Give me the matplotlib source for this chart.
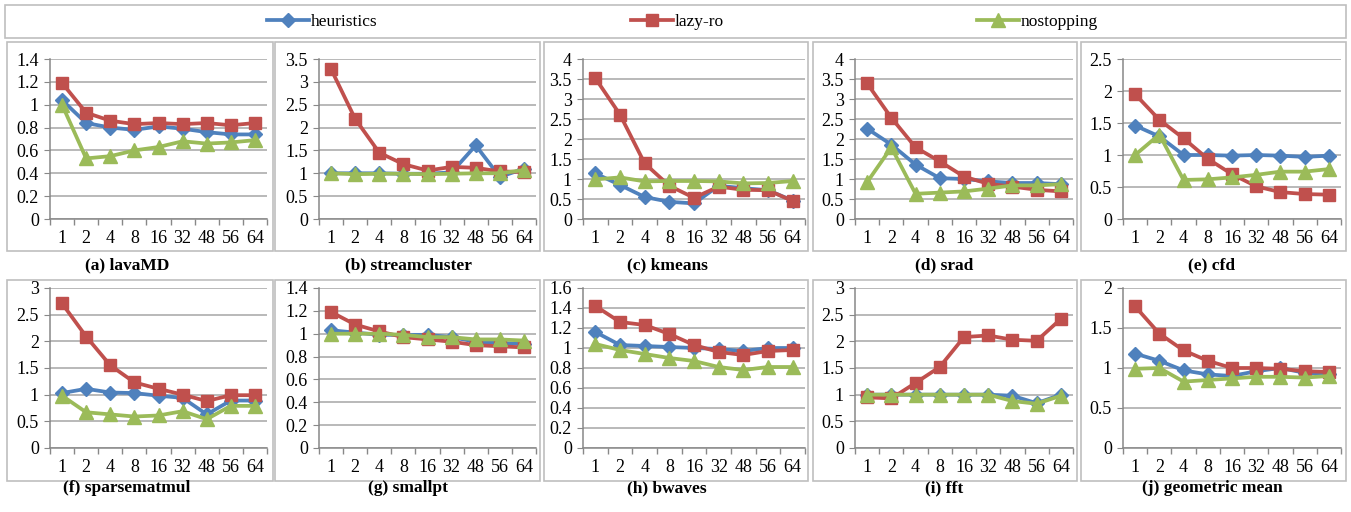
"""Speedup per thread count for heuristics / lazy-ro / nostopping (10 panels)."""
import matplotlib
matplotlib.use("Agg")
import matplotlib.pyplot as plt
from matplotlib.patches import Rectangle
from matplotlib.ticker import MultipleLocator, FixedLocator

threads = ["1", "2", "4", "8", "16", "32", "48", "56", "64"]
series_names = ["heuristics", "lazy-ro", "nostopping"]

lavamd_heur = [1.04, 0.84, 0.80, 0.78, 0.81, 0.79, 0.76, 0.74, 0.74]
lavamd_lazy = [1.19, 0.93, 0.86, 0.83, 0.84, 0.83, 0.84, 0.82, 0.84]
lavamd_nostop = [1.00, 0.53, 0.55, 0.60, 0.63, 0.68, 0.66, 0.67, 0.69]

stream_heur = [1.00, 1.00, 1.00, 0.99, 0.99, 1.02, 1.61, 0.92, 1.10]
stream_lazy = [3.28, 2.19, 1.45, 1.20, 1.06, 1.14, 1.12, 1.04, 1.03]
stream_nostop = [1.00, 0.98, 0.99, 0.99, 0.98, 0.99, 1.00, 1.00, 1.07]

kmeans_heur = [1.14, 0.85, 0.55, 0.43, 0.39, 0.83, 0.77, 0.72, 0.46]
kmeans_lazy = [3.52, 2.61, 1.39, 0.83, 0.53, 0.81, 0.73, 0.72, 0.45]
kmeans_nostop = [0.99, 1.04, 0.94, 0.95, 0.95, 0.94, 0.89, 0.90, 0.95]

srad_heur = [2.26, 1.86, 1.36, 1.02, 1.00, 0.94, 0.90, 0.90, 0.87]
srad_lazy = [3.39, 2.53, 1.79, 1.44, 1.06, 0.88, 0.81, 0.73, 0.69]
srad_nostop = [0.92, 1.79, 0.63, 0.66, 0.69, 0.76, 0.84, 0.84, 0.87]

cfd_heur = [1.46, 1.29, 1.00, 1.00, 0.99, 1.00, 0.99, 0.97, 0.99]
cfd_lazy = [1.95, 1.55, 1.26, 0.94, 0.70, 0.51, 0.42, 0.39, 0.38]
cfd_nostop = [1.00, 1.32, 0.61, 0.62, 0.65, 0.69, 0.74, 0.74, 0.78]

sparse_heur = [1.03, 1.11, 1.04, 1.03, 0.98, 0.94, 0.63, 0.89, 0.89]
sparse_lazy = [2.71, 2.09, 1.55, 1.23, 1.11, 1.00, 0.88, 0.99, 0.99]
sparse_nostop = [0.98, 0.67, 0.63, 0.59, 0.61, 0.69, 0.54, 0.79, 0.79]

smallpt_heur = [1.03, 1.01, 0.99, 0.99, 0.99, 0.97, 0.93, 0.92, 0.91]
smallpt_lazy = [1.19, 1.08, 1.02, 0.97, 0.95, 0.93, 0.90, 0.89, 0.88]
smallpt_nostop = [1.00, 1.00, 1.00, 0.99, 0.97, 0.97, 0.95, 0.95, 0.94]

bwaves_heur = [1.16, 1.03, 1.02, 1.01, 1.00, 0.99, 0.97, 1.00, 1.00]
bwaves_lazy = [1.42, 1.26, 1.23, 1.14, 1.03, 0.96, 0.93, 0.97, 0.98]
bwaves_nostop = [1.04, 0.98, 0.94, 0.90, 0.87, 0.81, 0.78, 0.81, 0.81]

fft_heur = [1.00, 1.00, 1.00, 1.00, 1.00, 1.00, 0.98, 0.84, 1.00]
fft_lazy = [0.95, 0.93, 1.22, 1.52, 2.08, 2.11, 2.03, 2.01, 2.42]
fft_nostop = [1.00, 1.00, 1.00, 1.00, 1.00, 1.00, 0.88, 0.83, 0.98]

geo_heur = [1.18, 1.09, 0.97, 0.92, 0.90, 0.96, 1.00, 0.94, 0.92]
geo_lazy = [1.77, 1.43, 1.22, 1.09, 1.00, 1.00, 0.99, 0.96, 0.95]
geo_nostop = [0.99, 1.00, 0.83, 0.85, 0.87, 0.89, 0.89, 0.88, 0.90]

captions = ["(a) lavaMD", "(b) streamcluster", "(c) kmeans", "(d) srad", "(e) cfd",
            "(f) sparsematmul", "(g) smallpt", "(h) bwaves", "(i) fft", "(j) geometric mean"]
panel_data = [
    (lavamd_heur, lavamd_lazy, lavamd_nostop),
    (stream_heur, stream_lazy, stream_nostop),
    (kmeans_heur, kmeans_lazy, kmeans_nostop),
    (srad_heur, srad_lazy, srad_nostop),
    (cfd_heur, cfd_lazy, cfd_nostop),
    (sparse_heur, sparse_lazy, sparse_nostop),
    (smallpt_heur, smallpt_lazy, smallpt_nostop),
    (bwaves_heur, bwaves_lazy, bwaves_nostop),
    (fft_heur, fft_lazy, fft_nostop),
    (geo_heur, geo_lazy, geo_nostop),
]
ymax = [1.4, 3.5, 4, 4, 2.5, 3, 1.4, 1.6, 3, 2]
ystep = [0.2, 0.5, 0.5, 0.5, 0.5, 0.5, 0.2, 0.2, 0.5, 0.5]

COLORS = ["#4F81BD", "#C0504D", "#9BBB59"]
MARKERS = ["D", "s", "^"]
MSIZE = [7.5, 9, 10]
GRID = "#A6A6A6"
BOX = "#BFBFBF"

W, H = 1351, 512
plt.rcParams["font.family"] = ["Liberation Serif", "DejaVu Serif"]
fig = plt.figure(figsize=(W / 100, H / 100), dpi=100)


def fx(px):
    return px / W


def fy(py):
    return 1 - py / H


ax_left = [50, 319, 583, 855, 1123]
ax_right = [267, 536, 805, 1073, 1341]
ax_rows = [(59, 219), (288, 448)]
box_x = [(7, 273), (275, 540), (544, 808), (813, 1077), (1081, 1346)]
box_rows = [(42, 251), (280, 481)]
cap_x = [127, 408, 667, 944, 1212]
cap_y = [265, 488]

# outer frames
fig.patches.append(Rectangle((fx(5), fy(38)), fx(1346) - fx(5), fy(5) - fy(38),
                             transform=fig.transFigure, fill=False, ec=BOX, lw=1.2))
for r, (bt, bb) in enumerate(box_rows):
    for c, (bl, br) in enumerate(box_x):
        fig.patches.append(Rectangle((fx(bl), fy(bb)), fx(br) - fx(bl), fy(bt) - fy(bb),
                                     transform=fig.transFigure, fill=False, ec=BOX, lw=1.2))

handles = None
for i, data in enumerate(panel_data):
    r, c = divmod(i, 5)
    top, bot = ax_rows[r]
    ax = fig.add_axes([fx(ax_left[c]), fy(bot), fx(ax_right[c]) - fx(ax_left[c]),
                       fy(top) - fy(bot)])
    xs = range(len(threads))
    lines = []
    for k, vals in enumerate(data):
        ln, = ax.plot(xs, vals, color=COLORS[k], marker=MARKERS[k], ms=MSIZE[k],
                      lw=2.7, mec=COLORS[k], label=series_names[k])
        lines.append(ln)
    handles = lines
    ax.set_xlim(-0.5, len(threads) - 0.5)
    ax.set_ylim(0, ymax[i])
    ax.yaxis.set_major_locator(MultipleLocator(ystep[i]))
    ax.yaxis.set_major_formatter(plt.FuncFormatter(lambda v, p: f"{v:g}"))
    ax.set_xticks(list(xs))
    ax.set_xticklabels(threads)
    ax.xaxis.set_minor_locator(FixedLocator([x - 0.5 for x in range(len(threads) + 1)]))
    ax.tick_params(axis="x", which="major", length=0, pad=8, labelsize=13)
    ax.tick_params(axis="x", which="minor", length=4, color="#888888", width=1)
    ax.tick_params(axis="y", length=4, color="#888888", pad=4, labelsize=13)
    ax.grid(axis="y", color=GRID, lw=1.1)
    ax.set_axisbelow(True)
    for s in ("top", "right"):
        ax.spines[s].set_visible(False)
    for s in ("left", "bottom"):
        ax.spines[s].set_color("#888888")
        ax.spines[s].set_linewidth(1.1)
    ax.set_facecolor("none")
    fig.text(fx(cap_x[c]), fy(cap_y[r]), captions[i], ha="center", va="center",
             fontsize=12.5, fontweight="bold")

# legend entries at measured positions
leg_x = [267, 631, 977]
for k, h in enumerate(handles):
    fig.legend([h], [series_names[k]], loc="center left",
               bbox_to_anchor=(fx(leg_x[k]), fy(22)), frameon=False, fontsize=12.5,
               handlelength=2.4, handletextpad=0.1, borderpad=0, borderaxespad=0)

fig.savefig("out.png", dpi=100)
